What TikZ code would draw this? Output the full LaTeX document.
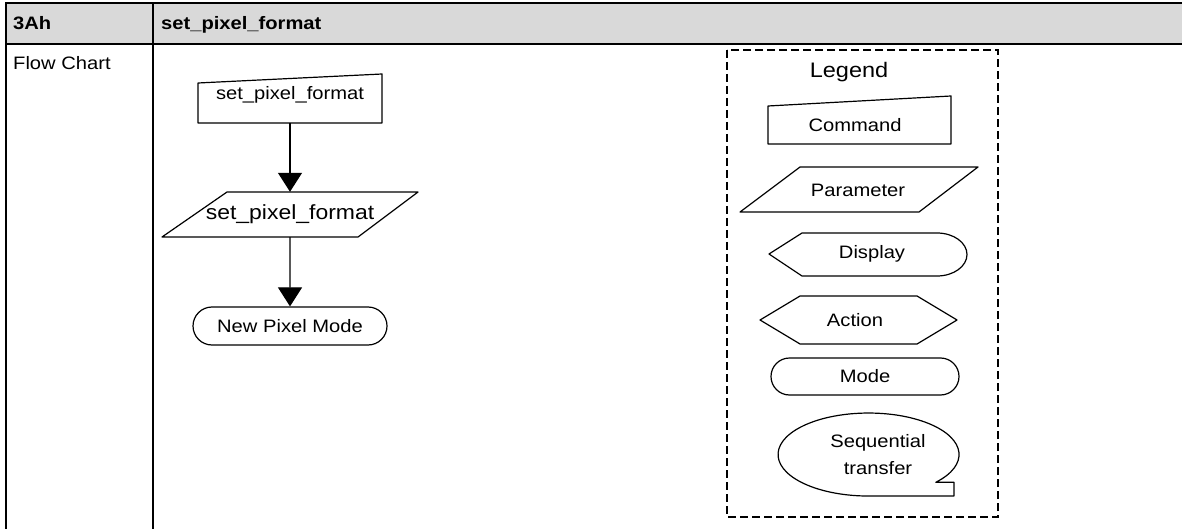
\documentclass[tikz,border=0pt]{standalone}
\usepackage{fontspec}
\setmainfont{Liberation Sans}[FakeStretch=1.12]
\usetikzlibrary{positioning, arrows.meta, shapes.misc}

\definecolor{headgray}{HTML}{D9D9D9}

\begin{document}
\begin{tikzpicture}[
    x=1pt, y=-1pt,
    cell/.style={draw=black, line width=2pt},
    celltext/.style={anchor=base west, inner sep=0pt, font=\fontsize{18}{21}\selectfont},
    label/.style={inner sep=0pt, align=center, font=\fontsize{18}{27}\selectfont},
    outline/.style={draw=black, line width=1.2pt, line join=round},
    modebox/.style={rounded rectangle, draw=black, line width=1.2pt, inner sep=0pt, font=\fontsize{18}{21}\selectfont},
    flow/.style={-{Triangle[length=19pt, width=24pt]}, line width=1.2pt}
]
\useasboundingbox (0,0) rectangle (1182,529);

% table frame
\fill[headgray] (6,3) rectangle (1182,44.5);
\draw[cell] (1182,3) -- (6,3) -- (6,529);
\draw[cell] (6,44.5) -- (1182,44.5);
\draw[cell] (153,3) -- (153,529);
\node[celltext, font=\fontsize{18}{21}\selectfont\bfseries] (code) at (13,29.5) {3Ah};
\node[celltext, font=\fontsize{18}{21}\selectfont\bfseries] (cmdname) at (161,29.5) {set\_pixel\_format};
\node[celltext] (rowname) at (13,70) {Flow Chart};

% flow chart
\node[label, minimum height=56pt] (cmd) at (290,95) {set\_pixel\_format};
\draw[outline] (198,83) -- (382,74) -- (382,123) -- (198,123) -- cycle;
\node[label, minimum height=45pt, font=\fontsize{20.5}{24}\selectfont] (param) at (290,214.5) {set\_pixel\_format};
\draw[outline] (162,237) -- (227,192) -- (418,192) -- (358,237) -- cycle;
\node[modebox, minimum width=194pt, minimum height=38pt] (newmode) at (290,326) {New Pixel Mode};

\draw[flow] (cmd) -- (param);
\draw[flow] (param) -- (newmode);

% legend
\draw[line width=1.5pt, dash pattern=on 8pt off 4pt] (727,50) rectangle (998,517);
\node[label, font=\fontsize{21}{24}\selectfont] (legend) at (849,72) {Legend};
\node[label] (lcmd) at (855,125) {Command};
\draw[outline] (768,106) -- (951,96) -- (951,144) -- (768,144) -- cycle;
\node[label] (lparam) at (858,190) {Parameter};
\draw[outline] (740,212) -- (800,167) -- (978,167) -- (919,212) -- cycle;
\node[label] (ldisp) at (872,254) {Display};
\draw[outline] (769,254) -- (802,233) -- (937,233)
    arc[start angle=90, end angle=-90, x radius=30pt, y radius=21.5pt] -- (802,276) -- cycle;
\node[label] (lact) at (855,320) {Action};
\draw[outline] (760,320) -- (800,296) -- (917,296) -- (957,320) -- (917,344) -- (800,344) -- cycle;
\node[modebox, minimum width=188pt, minimum height=37pt] (lmode) at (865,376.5) {Mode};
\node[label] (lseq) at (878,455) {Sequential\\transfer};
\draw[outline] (935.8,482.3) arc[start angle=-42, end angle=270, x radius=90.5pt, y radius=41.5pt]
    -- (954,496) -- (954,482.3) -- cycle;
\end{tikzpicture}
\end{document}
